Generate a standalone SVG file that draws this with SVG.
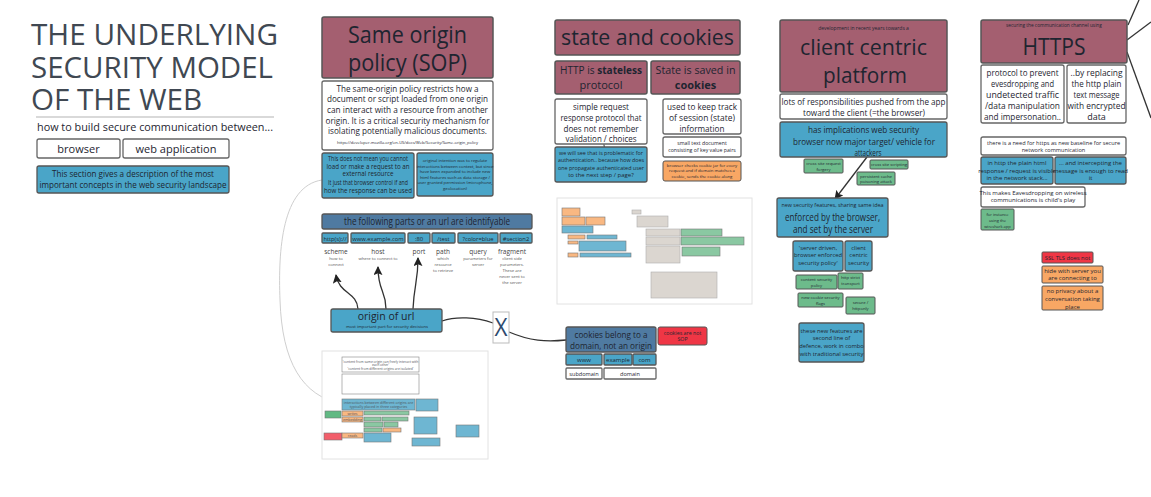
<svg xmlns="http://www.w3.org/2000/svg" width="1151" height="497" viewBox="0 0 1151 497">
<style>
text{font-family:"Open Sans","Liberation Sans",sans-serif;fill:#1e2530}
.c{text-anchor:middle}
.hdr{fill:#a45f70;stroke:#555;stroke-width:1.5}
.wht{fill:#fff;stroke:#666;stroke-width:1.3}
.blu{fill:#4aa5c8;stroke:#555;stroke-width:1.3}
.stl{fill:#4f7aa1;stroke:#555;stroke-width:1.3}
.grn{fill:#6dbb8b;stroke:#555;stroke-width:1}
.org{fill:#f8a764;stroke:#555;stroke-width:1}
.red{fill:#ef3645;stroke:#555;stroke-width:1}
.gry{fill:#d3ccc5;stroke:#999;stroke-width:1}
.frame{fill:#fff;stroke:#e2e2e2;stroke-width:1}
.tb{stroke-width:.6}
.thumb{opacity:.8}
.conn{fill:none;stroke:#333;stroke-width:1.3}
.faint{fill:none;stroke:#cfcfcf;stroke-width:1}
.ttl{fill:#404852}
</style>
<defs>
<marker id="ah" viewBox="0 0 10 10" refX="9" refY="5" markerWidth="9" markerHeight="9" orient="auto" markerUnits="userSpaceOnUse">
<path d="M0,0 L10,5 L0,10 L2,5 z" fill="#222"/>
</marker>
</defs>

<g id="title">
<text class="ttl" x="31" y="45" font-size="29" textLength="247" lengthAdjust="spacingAndGlyphs">THE UNDERLYING</text>
<text class="ttl" x="31" y="77.5" font-size="29" textLength="242" lengthAdjust="spacingAndGlyphs">SECURITY MODEL</text>
<text class="ttl" x="31" y="110" font-size="29" textLength="171" lengthAdjust="spacingAndGlyphs">OF THE WEB</text>
<line x1="36" y1="117" x2="274" y2="117" stroke="#cccccc" stroke-width="1.5"/>
<text x="37" y="131" font-size="11" textLength="236" lengthAdjust="spacingAndGlyphs">how to build secure communication between...</text>
</g>
<g id="browser"><rect class="wht" x="37" y="139" width="83" height="19" rx="2"/><text class="c" x="78.5" y="153" font-size="11">browser</text></g>
<g id="webapp"><rect class="wht" x="123" y="139" width="106" height="19" rx="2"/><text class="c" x="176" y="153" font-size="11">web application</text></g>
<g id="section-desc"><rect class="blu" x="37" y="166" width="192" height="27" rx="2"/>
<text class="c" x="133" y="177" font-size="8.5" textLength="162" lengthAdjust="spacingAndGlyphs">This section gives a description of the most</text>
<text class="c" x="133" y="188" font-size="8.5" textLength="187" lengthAdjust="spacingAndGlyphs">important concepts in the web security landscape</text></g>

<g id="connectors">
<path class="faint" d="M322,180 C282,186 278,250 280,300 C282,362 302,396 342,404"/>
<path class="conn" d="M358,309 C357,292 339,294 336,275" marker-end="url(#ah)"/>
<path class="conn" d="M386,309 C386,290 378,292 378,267" marker-end="url(#ah)"/>
<path class="conn" d="M413,309 C414,285 418,282 418,258" marker-end="url(#ah)"/>
<path class="conn" d="M442,321 C456,316 476,317 493,323"/>
<path class="conn" d="M509,332 C530,341 546,342 566,340"/>
<path class="conn" d="M867,157 L835,199" marker-end="url(#ah)"/>
<path class="conn" d="M1128,25 L1139,0"/>
<path class="conn" d="M1127,40 L1151,22"/>
<path class="conn" d="M1127,52 L1151,118"/>
<path fill="none" stroke="#333" stroke-width="1" d="M611,126 C603,134 602,147 607,155 C611,163 617,169 620,174"/>
</g>

<g id="sop-header"><rect class="hdr" x="322" y="17" width="171" height="61" rx="2"/>
<text class="c" x="407.5" y="43" font-size="24" textLength="119" lengthAdjust="spacingAndGlyphs">Same origin</text>
<text class="c" x="407.5" y="71" font-size="24" textLength="119" lengthAdjust="spacingAndGlyphs">policy (SOP)</text></g>
<g id="sop-desc"><rect class="wht" x="322" y="81" width="171" height="69" rx="2"/>
<text class="c" x="407.5" y="91.5" font-size="9.3" textLength="142" lengthAdjust="spacingAndGlyphs">The same-origin policy restricts how a</text>
<text class="c" x="407.5" y="102.2" font-size="9.3" textLength="161" lengthAdjust="spacingAndGlyphs">document or script loaded from one origin</text>
<text class="c" x="407.5" y="112.9" font-size="9.3" textLength="161" lengthAdjust="spacingAndGlyphs">can interact with a resource from another</text>
<text class="c" x="407.5" y="123.6" font-size="9.3" textLength="164" lengthAdjust="spacingAndGlyphs">origin. It is a critical security mechanism for</text>
<text class="c" x="407.5" y="134.3" font-size="9.3" textLength="159" lengthAdjust="spacingAndGlyphs">isolating potentially malicious documents.</text>
<text class="c" x="407.5" y="143.5" font-size="4" textLength="141" lengthAdjust="spacingAndGlyphs">https://developer.mozilla.org/en-US/docs/Web/Security/Same-origin_policy</text></g>
<g id="sop-note1"><rect class="blu" x="322" y="153" width="92" height="45" rx="2"/>
<text class="c" x="368" y="161" font-size="6.2" textLength="80" lengthAdjust="spacingAndGlyphs">This does not mean you cannot</text>
<text class="c" x="368" y="168.5" font-size="6.2">load or make a request to an</text>
<text class="c" x="368" y="176" font-size="6.2">external resource</text>
<text class="c" x="368" y="185" font-size="6.2" textLength="80" lengthAdjust="spacingAndGlyphs">It just that browser control if and</text>
<text class="c" x="368" y="193" font-size="6.2">how the response can be used</text></g>
<g id="sop-note2"><rect class="blu" x="417" y="153" width="76" height="43" rx="2"/>
<text class="c" x="455" y="162" font-size="4.2">original intention was to regulate</text>
<text class="c" x="455" y="167.5" font-size="4.2">interactions between context, but since</text>
<text class="c" x="455" y="173" font-size="4.2">have been expanded to include new</text>
<text class="c" x="455" y="178.5" font-size="4.2">html features such as data storage /</text>
<text class="c" x="455" y="184" font-size="4.2">user granted permission (microphone,</text>
<text class="c" x="455" y="190" font-size="4.2">geolocation)</text></g>

<g id="url-parts"><rect class="stl" x="322" y="214" width="210" height="15" rx="2"/>
<text class="c" x="427" y="225" font-size="10" textLength="166" lengthAdjust="spacingAndGlyphs">the following parts or an url are identifyable</text></g>
<g id="part-scheme"><rect class="blu" x="322" y="233" width="26" height="10" rx="1"/><text class="c" x="335" y="240.5" font-size="5.8">http(s)://</text>
<text class="c" x="336" y="254" font-size="6.5" style="fill:#444">scheme</text>
<text class="c" x="336" y="260" font-size="4.2" style="fill:#555">how to</text><text class="c" x="336" y="266" font-size="4.2" style="fill:#555">connect</text></g>
<g id="part-host"><rect class="blu" x="351" y="233" width="54" height="10" rx="1"/><text class="c" x="378" y="240.5" font-size="5.8">www.example.com</text>
<text class="c" x="378" y="254" font-size="6.5" style="fill:#444">host</text>
<text class="c" x="378" y="260" font-size="4.2" style="fill:#555">where to connect to</text></g>
<g id="part-port"><rect class="blu" x="408" y="233" width="22" height="10" rx="1"/><text class="c" x="419" y="240.5" font-size="5.8">:80</text>
<text class="c" x="419" y="254" font-size="6.5" style="fill:#444">port</text></g>
<g id="part-path"><rect class="blu" x="432" y="233" width="23" height="10" rx="1"/><text class="c" x="443.5" y="240.5" font-size="5.8">/test</text>
<text class="c" x="443" y="254" font-size="6.5" style="fill:#444">path</text>
<text class="c" x="443" y="260" font-size="4.2" style="fill:#555">which</text><text class="c" x="443" y="266" font-size="4.2" style="fill:#555">resource</text><text class="c" x="443" y="272" font-size="4.2" style="fill:#555">to retrieve</text></g>
<g id="part-query"><rect class="blu" x="458" y="233" width="40" height="10" rx="1"/><text class="c" x="478" y="240.5" font-size="5.8">?color=blue</text>
<text class="c" x="478" y="254" font-size="6.5" style="fill:#444">query</text>
<text class="c" x="478" y="260" font-size="4.2" style="fill:#555">parameters for</text><text class="c" x="478" y="266" font-size="4.2" style="fill:#555">server</text></g>
<g id="part-fragment"><rect class="blu" x="500" y="233" width="32" height="10" rx="1"/><text class="c" x="516" y="240.5" font-size="5.8">#section2</text>
<text class="c" x="512" y="254" font-size="6.5" style="fill:#444">fragment</text>
<text class="c" x="512" y="260" font-size="4.2" style="fill:#555">client side</text><text class="c" x="512" y="266" font-size="4.2" style="fill:#555">parameters.</text><text class="c" x="512" y="272" font-size="4.2" style="fill:#555">These are</text><text class="c" x="512" y="278" font-size="4.2" style="fill:#555">never sent to</text><text class="c" x="512" y="284" font-size="4.2" style="fill:#555">the server</text></g>

<g id="origin-url"><rect class="blu" x="331" y="309" width="111" height="23" rx="2"/>
<text class="c" x="386" y="319.5" font-size="10.5">origin of url</text>
<text class="c" x="387" y="328" font-size="4.2">most important part for security decisions</text></g>

<g id="x-node"><rect x="493" y="312" width="16" height="31" fill="#fff" stroke="#bbb" stroke-width="1"/>
<text class="c" x="501" y="336" font-size="25" textLength="13" lengthAdjust="spacingAndGlyphs" style="fill:#2d4a6e">X</text></g>

<g id="thumb-sop">
<rect class="frame" x="322" y="351" width="166" height="108"/>
<g class="thumb">
<rect class="wht tb" x="342" y="357" width="77" height="15"/>
<text class="c" x="380.5" y="362.5" font-size="3.3">'content from same origin can freely interact with</text>
<text class="c" x="380.5" y="366" font-size="3.3">each other'</text>
<text class="c" x="380.5" y="370.2" font-size="3.3">'content from different origins are isolated'</text>
<rect class="wht tb" x="342" y="374" width="77" height="20"/>
<rect class="blu tb" x="342" y="399" width="73" height="11"/>
<text class="c" x="378.5" y="404" font-size="3.6">interactions between different origins are</text>
<text class="c" x="378.5" y="408.2" font-size="3.6">typically placed in three categories</text>
<rect class="blu tb" x="416" y="399" width="22" height="12"/>
<rect class="grn tb" x="325" y="411" width="16" height="7" style="fill:#3aa865"/>
<rect class="org tb" x="342" y="411" width="21" height="5"/><text class="c" x="352.5" y="415" font-size="3.6">writes</text>
<rect class="grn tb" x="364" y="411" width="45" height="4"/>
<rect class="org tb" x="342" y="417" width="21" height="5"/><text class="c" x="352.5" y="421" font-size="3.6">embedding</text>
<rect class="grn tb" x="364" y="417" width="17" height="4"/>
<rect class="grn tb" x="382" y="417" width="26" height="4"/>
<rect class="blu tb" x="414" y="417" width="23" height="17"/>
<rect class="grn tb" x="364" y="422" width="19" height="5"/>
<rect class="grn tb" x="384" y="422" width="14" height="5"/>
<rect class="grn tb" x="364" y="428" width="18" height="4"/>
<rect class="org tb" x="383" y="428" width="18" height="4"/>
<rect class="red tb" x="324" y="433" width="18" height="7"/>
<rect class="org tb" x="342" y="433" width="21" height="5"/><text class="c" x="352.5" y="437" font-size="3.6">reads</text>
<rect class="blu tb" x="364" y="433" width="27" height="9"/>
<rect class="blu tb" x="412" y="438" width="28" height="8"/>
<rect class="blu tb" x="456" y="425" width="23" height="12"/>
</g>
</g>

<g id="sc-header"><rect class="hdr" x="555" y="20" width="185" height="35" rx="2"/>
<text class="c" x="647.5" y="45" font-size="22" textLength="173" lengthAdjust="spacingAndGlyphs">state and cookies</text></g>
<g id="stateless"><rect class="hdr" x="555" y="61" width="92" height="33" rx="2"/>
<text class="c" x="601" y="74" font-size="11" textLength="82" lengthAdjust="spacingAndGlyphs">HTTP is <tspan font-weight="bold">stateless</tspan></text>
<text class="c" x="601" y="89" font-size="11">protocol</text></g>
<g id="saved-cookies"><rect class="hdr" x="651" y="61" width="89" height="33" rx="2"/>
<text class="c" x="695.5" y="74" font-size="11" textLength="80" lengthAdjust="spacingAndGlyphs">State is saved in</text>
<text class="c" x="695.5" y="89" font-size="11" font-weight="bold">cookies</text></g>
<g id="simple-req"><rect class="wht" x="555" y="99" width="92" height="45" rx="2"/>
<text class="c" x="601" y="109.5" font-size="9.6" textLength="56" lengthAdjust="spacingAndGlyphs">simple request</text>
<text class="c" x="601" y="120.5" font-size="9.6" textLength="81" lengthAdjust="spacingAndGlyphs">response protocol that</text>
<text class="c" x="601" y="131.5" font-size="9.6" textLength="75" lengthAdjust="spacingAndGlyphs">does not remember</text>
<text class="c" x="601" y="142.3" font-size="9.6" textLength="71" lengthAdjust="spacingAndGlyphs">validation / choices</text></g>
<g id="problematic"><rect class="blu" x="555" y="147" width="92" height="35" rx="2"/>
<text class="c" x="601" y="154.5" font-size="6" textLength="84" lengthAdjust="spacingAndGlyphs">we will see that is problematic for</text>
<text class="c" x="601" y="162" font-size="6" textLength="86" lengthAdjust="spacingAndGlyphs">authentication.. because how does</text>
<text class="c" x="601" y="169.5" font-size="6" textLength="86" lengthAdjust="spacingAndGlyphs">one propagate authenticated user</text>
<text class="c" x="601" y="177" font-size="6">to the next step / page?</text></g>
<g id="keep-track"><rect class="wht" x="663" y="99" width="78" height="35" rx="2"/>
<text class="c" x="702" y="109.5" font-size="9.6" textLength="70" lengthAdjust="spacingAndGlyphs">used to keep track</text>
<text class="c" x="702" y="120.5" font-size="9.6" textLength="66" lengthAdjust="spacingAndGlyphs">of session (state)</text>
<text class="c" x="702" y="131.5" font-size="9.6" textLength="45" lengthAdjust="spacingAndGlyphs">information</text></g>
<g id="small-text"><rect class="wht" x="663" y="137" width="78" height="20" rx="2"/>
<text class="c" x="702" y="145" font-size="5.2">small text document</text>
<text class="c" x="702" y="152" font-size="5.2">consisting of key value pairs</text></g>
<g id="cookie-jar"><rect class="org" x="663" y="161" width="78" height="20" rx="2"/>
<text class="c" x="702" y="166.5" font-size="4.3">browser checks cookie jar for every</text>
<text class="c" x="702" y="172" font-size="4.3">request and if domain matches a</text>
<text class="c" x="702" y="178" font-size="4.3">cookie, sends the cookie along</text></g>

<g id="thumb-cookies">
<rect class="frame" x="557" y="198" width="195" height="106"/>
<g class="thumb">
<rect class="org tb" x="562" y="208" width="18" height="8"/>
<rect class="org tb" x="562" y="217" width="23" height="8"/>
<rect class="org tb" x="586" y="217" width="19" height="8"/>
<rect class="blu tb" x="562" y="226" width="31" height="7"/>
<rect class="org tb" x="568" y="235" width="17" height="4"/>
<rect class="blu tb" x="587" y="235" width="30" height="4"/>
<rect class="org tb" x="568" y="241" width="10" height="3"/>
<rect class="blu tb" x="579" y="241" width="47" height="10"/>
<rect class="org tb" x="568" y="253" width="10" height="4"/>
<rect class="blu tb" x="580" y="253" width="51" height="4"/>
<rect class="gry tb" x="632" y="210" width="9" height="4"/>
<rect class="gry tb" x="637" y="216" width="31" height="11"/>
<rect class="gry tb" x="646" y="229" width="34" height="7"/>
<rect class="grn tb" x="681" y="229" width="41" height="7"/>
<rect class="gry tb" x="646" y="237" width="34" height="8"/>
<rect class="grn tb" x="681" y="237" width="63" height="8"/>
<rect class="gry tb" x="646" y="246" width="34" height="17"/>
<rect class="grn tb" x="682" y="247" width="38" height="9"/>
<rect class="gry tb" x="651" y="272" width="66" height="26"/>
</g>
</g>

<g id="cookies-domain"><rect class="stl" x="566" y="327" width="90" height="25" rx="2"/>
<text class="c" x="611" y="338" font-size="9.6" textLength="73" lengthAdjust="spacingAndGlyphs">cookies belong to a</text>
<text class="c" x="611" y="349" font-size="9.6" textLength="82" lengthAdjust="spacingAndGlyphs">domain, not an origin</text></g>
<g id="not-sop"><rect class="red" x="658" y="327" width="49" height="18" rx="2"/>
<text class="c" x="682.5" y="334.5" font-size="5.3">cookies are not</text>
<text class="c" x="682.5" y="341" font-size="5.3">SOP</text></g>
<g id="www"><rect class="blu" x="566" y="354" width="36" height="11" rx="1"/><text class="c" x="584" y="362" font-size="6">www</text></g>
<g id="example"><rect class="blu" x="604" y="354" width="28" height="11" rx="1"/><text class="c" x="618" y="362" font-size="6">example</text></g>
<g id="com"><rect class="blu" x="633" y="354" width="23" height="11" rx="1"/><text class="c" x="644.5" y="362" font-size="6">com</text></g>
<g id="subdomain"><rect class="wht" x="566" y="368" width="36" height="11" rx="1"/><text class="c" x="584" y="376" font-size="5.6">subdomain</text></g>
<g id="domain"><rect class="wht" x="604" y="368" width="52" height="11" rx="1"/><text class="c" x="630" y="376" font-size="5.6">domain</text></g>

<g id="cc-header"><rect class="hdr" x="780" y="20" width="167" height="72" rx="2"/>
<text class="c" x="863.5" y="29.5" font-size="5">development in recent years towards a</text>
<text class="c" x="863.5" y="55" font-size="22" textLength="127" lengthAdjust="spacingAndGlyphs">client centric</text>
<text class="c" x="865" y="83" font-size="22" textLength="84" lengthAdjust="spacingAndGlyphs">platform</text></g>
<g id="responsibilities"><rect class="wht" x="780" y="94" width="167" height="25" rx="2"/>
<text class="c" x="863.5" y="105.3" font-size="8.7" textLength="164" lengthAdjust="spacingAndGlyphs">lots of responsibilities pushed from the app</text>
<text class="c" x="864" y="115.8" font-size="8.7" textLength="122" lengthAdjust="spacingAndGlyphs">toward the client (=the browser)</text></g>
<g id="implications"><rect class="blu" x="780" y="122" width="167" height="35" rx="2"/>
<text class="c" x="863.5" y="132.5" font-size="9" textLength="111" lengthAdjust="spacingAndGlyphs">has implications web security</text>
<text class="c" x="864" y="145" font-size="9" textLength="142" lengthAdjust="spacingAndGlyphs">browser now major target/ vehicle for</text>
<text class="c" x="868" y="155.8" font-size="8.2" textLength="27" lengthAdjust="spacingAndGlyphs">attackers</text></g>
<g id="csrf"><rect class="grn" x="804" y="159" width="39" height="14" rx="1"/>
<text class="c" x="823.5" y="165" font-size="4.2">cross site request</text><text class="c" x="823.5" y="170.5" font-size="4.2">forgery</text></g>
<g id="xss"><rect class="grn" x="870" y="160" width="38" height="9" rx="1"/>
<text class="c" x="889" y="166.3" font-size="4.2">cross site scripting</text></g>
<g id="cache-poison"><rect class="grn" x="857" y="172" width="38" height="13" rx="1"/>
<text class="c" x="876" y="177.8" font-size="4.2">persistent cache</text><text class="c" x="876" y="183" font-size="4.2">poisoning attack</text></g>
<g id="enforced"><rect class="blu" x="777" y="198" width="111" height="39" rx="2"/>
<text class="c" x="832.5" y="206.5" font-size="5.6" textLength="102" lengthAdjust="spacingAndGlyphs">new security features, sharing same idea</text>
<text class="c" x="832.5" y="221" font-size="10.2" textLength="95" lengthAdjust="spacingAndGlyphs">enforced by the browser,</text>
<text class="c" x="833" y="232.5" font-size="10.2" textLength="80" lengthAdjust="spacingAndGlyphs">and set by the server</text></g>
<g id="server-driven"><rect class="blu" x="793" y="241" width="50" height="30" rx="2"/>
<text class="c" x="818" y="249.5" font-size="5.8">'server driven,</text>
<text class="c" x="818" y="257" font-size="5.8">browser enforced</text>
<text class="c" x="818" y="264.5" font-size="5.8">security policy'</text></g>
<g id="client-centric-sec"><rect class="blu" x="845" y="241" width="27" height="30" rx="2"/>
<text class="c" x="858.5" y="249.5" font-size="5.8">client</text>
<text class="c" x="858.5" y="257" font-size="5.8">centric</text>
<text class="c" x="858.5" y="264.5" font-size="5.8">security</text></g>
<g id="csp"><rect class="grn" x="796" y="275" width="41" height="14" rx="1"/>
<text class="c" x="816.5" y="280.8" font-size="4.2">content security</text><text class="c" x="816.5" y="286.8" font-size="4.2">policy</text></g>
<g id="hsts"><rect class="grn" x="838" y="273" width="25" height="16" rx="1"/>
<text class="c" x="850.5" y="278.8" font-size="4.2">http strict</text><text class="c" x="850.5" y="284.8" font-size="4.2">transport</text></g>
<g id="cookie-flags"><rect class="grn" x="798" y="293" width="45" height="14" rx="1"/>
<text class="c" x="820.5" y="298.8" font-size="4.2">new cookie security</text><text class="c" x="820.5" y="304.5" font-size="4.2">flags</text></g>
<g id="httponly"><rect class="grn" x="846" y="297" width="29" height="17" rx="1"/>
<text class="c" x="860.5" y="304" font-size="4.2">secure /</text><text class="c" x="860.5" y="310" font-size="4.2">httponly</text></g>
<g id="second-line"><rect class="blu" x="799" y="323" width="65" height="39" rx="2"/>
<text class="c" x="831.5" y="332.5" font-size="5.8">these new features are</text>
<text class="c" x="831.5" y="340.3" font-size="5.8">second line of</text>
<text class="c" x="831.5" y="348" font-size="5.8">defence, work in combo</text>
<text class="c" x="831.5" y="355.8" font-size="5.8">with traditional security</text></g>

<g id="https-header"><rect class="hdr" x="981" y="20" width="146" height="43" rx="2"/>
<text class="c" x="1054" y="27" font-size="4.8">securing the communication channel using</text>
<text class="c" x="1054" y="55" font-size="24" textLength="63" lengthAdjust="spacingAndGlyphs">HTTPS</text></g>
<g id="https-protocol"><rect class="wht" x="981" y="65" width="83" height="58" rx="2"/>
<text class="c" x="1022.5" y="75.5" font-size="9" textLength="72" lengthAdjust="spacingAndGlyphs">protocol to prevent</text>
<text class="c" x="1022.5" y="86.5" font-size="9" textLength="63" lengthAdjust="spacingAndGlyphs">evesdropping and</text>
<text class="c" x="1022.5" y="97.5" font-size="9" textLength="73" lengthAdjust="spacingAndGlyphs">undetected traffic</text>
<text class="c" x="1022.5" y="108.5" font-size="9" textLength="75" lengthAdjust="spacingAndGlyphs">/data manipulation</text>
<text class="c" x="1022.5" y="119.5" font-size="9" textLength="77" lengthAdjust="spacingAndGlyphs">and impersonation..</text></g>
<g id="https-replace"><rect class="wht" x="1067" y="65" width="59" height="58" rx="2"/>
<text class="c" x="1096.5" y="75.5" font-size="9" textLength="52" lengthAdjust="spacingAndGlyphs">..by replacing</text>
<text class="c" x="1096.5" y="86.5" font-size="9" textLength="50" lengthAdjust="spacingAndGlyphs">the http plain</text>
<text class="c" x="1096.5" y="97.5" font-size="9" textLength="46" lengthAdjust="spacingAndGlyphs">text message</text>
<text class="c" x="1096.5" y="108.5" font-size="9" textLength="58" lengthAdjust="spacingAndGlyphs">with encrypted</text>
<text class="c" x="1096.5" y="119.5" font-size="9">data</text></g>
<g id="https-need"><rect class="wht" x="981" y="137" width="145" height="18" rx="2"/>
<text class="c" x="1053.5" y="145" font-size="5.6">there is a need for https as new baseline for secure</text>
<text class="c" x="1053.5" y="152" font-size="5.6">network communication</text></g>
<g id="plain-html"><rect class="blu" x="981" y="157" width="72" height="27" rx="2"/>
<text class="c" x="1017" y="165.3" font-size="6">in http the plain html</text>
<text class="c" x="1017" y="172.8" font-size="6">response / request is visible</text>
<text class="c" x="1017" y="180.3" font-size="6">in the network stack...</text></g>
<g id="intercepting"><rect class="blu" x="1055" y="157" width="71" height="27" rx="2"/>
<text class="c" x="1090.5" y="165.3" font-size="6">... and intercepting the</text>
<text class="c" x="1090.5" y="172.8" font-size="6">message is enough to read</text>
<text class="c" x="1090.5" y="180.3" font-size="6">it</text></g>
<g id="child-play"><rect class="wht" x="981" y="187" width="104" height="20" rx="2"/>
<text class="c" x="1033" y="194.5" font-size="6">This makes Eavesdropping on wireless</text>
<text class="c" x="1033" y="202.3" font-size="6">communications is child's play</text></g>
<g id="wireshark"><rect class="grn" x="981" y="209" width="33" height="21" rx="1"/>
<text class="c" x="997.5" y="216.3" font-size="4">for instance</text>
<text class="c" x="997.5" y="222.3" font-size="4">using the</text>
<text class="c" x="997.5" y="228.3" font-size="4">wireshark app</text></g>

<g id="ssl-not"><rect class="red" x="1042" y="252" width="51" height="11" rx="1"/>
<text class="c" x="1067.5" y="259.8" font-size="5.8">SSL TLS does not</text></g>
<g id="hide-server"><rect class="org" x="1042" y="266" width="61" height="17" rx="1"/>
<text class="c" x="1072.5" y="273.3" font-size="6">hide with server you</text>
<text class="c" x="1072.5" y="280.3" font-size="6">are connecting to</text></g>
<g id="no-privacy"><rect class="org" x="1042" y="286" width="61" height="24" rx="1"/>
<text class="c" x="1072.5" y="293.3" font-size="6">no privacy about a</text>
<text class="c" x="1072.5" y="301" font-size="6">conversation taking</text>
<text class="c" x="1072.5" y="308.7" font-size="6">place</text></g>
</svg>
